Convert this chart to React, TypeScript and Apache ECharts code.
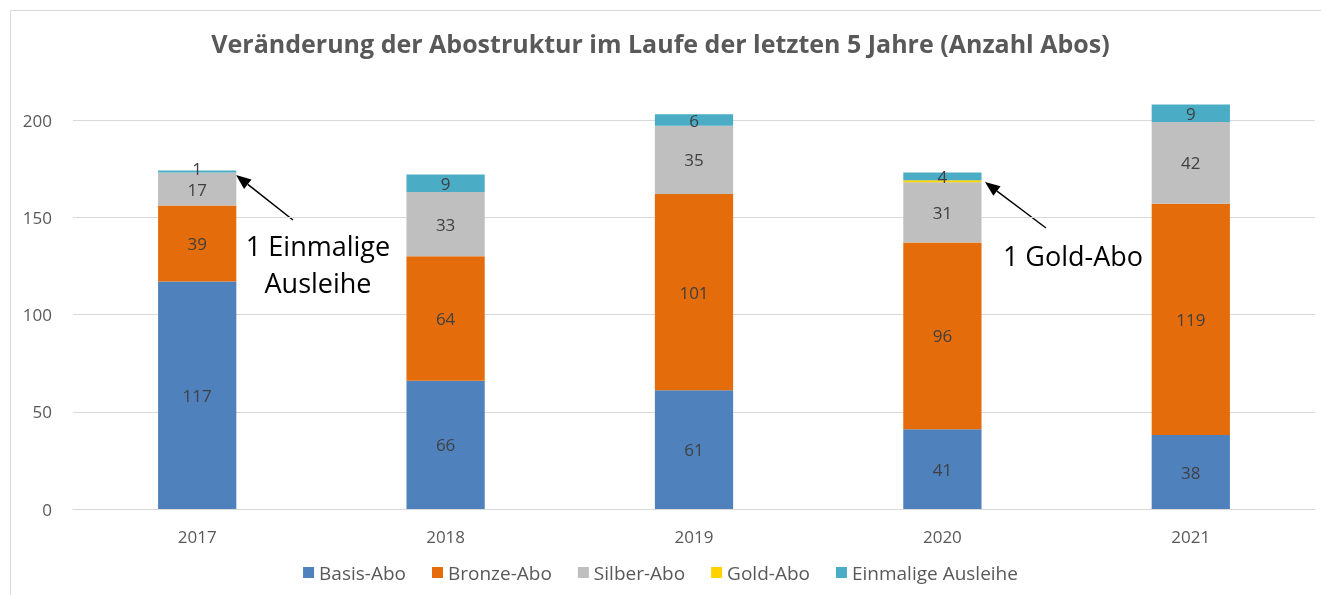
import React, { useEffect, useRef } from "react";
import * as echarts from "echarts";

const years = ["2017", "2018", "2019", "2020", "2021"];
const basis = [117, 66, 61, 41, 38];
const bronze = [39, 64, 101, 96, 119];
const silber = [17, 33, 35, 31, 42];
const gold = [0, 0, 0, 1, 0];
const einmalig = [1, 9, 6, 4, 9];
const seriesNames = ["Basis-Abo", "Bronze-Abo", "Silber-Abo", "Gold-Abo", "Einmalige Ausleihe"];
const colors = ["#4F81BD", "#E46C0A", "#BFBFBF", "#FFD200", "#4BACC6"];

const FONT = "'Open Sans', 'Noto Sans', sans-serif";

function arrow(x1: number, y1: number, x2: number, y2: number) {
  const dx = x2 - x1, dy = y2 - y1;
  const len = Math.sqrt(dx * dx + dy * dy);
  const ux = dx / len, uy = dy / len;
  const hl = 15, hw = 6;
  const bx = x2 - ux * hl, by = y2 - uy * hl;
  return [
    { type: "line", shape: { x1, y1, x2: bx, y2: by }, style: { stroke: "#000", lineWidth: 1.5 } },
    {
      type: "polygon",
      shape: { points: [[x2, y2], [bx - uy * hw, by + ux * hw], [bx + uy * hw, by - ux * hw]] },
      style: { fill: "#000" },
    },
  ];
}

export default function App() {
  const ref = useRef<HTMLDivElement>(null);
  useEffect(() => {
    const chart = echarts.init(ref.current!, undefined, { renderer: "svg" });
    const data = [basis, bronze, silber, gold, einmalig];
    chart.setOption({
      animation: false,
      textStyle: { fontFamily: FONT },
      title: {
        text: "Veränderung der Abostruktur im Laufe der letzten 5 Jahre (Anzahl Abos)",
        left: "center",
        top: 25,
        textStyle: { fontFamily: FONT, fontWeight: "bold", fontSize: 25, color: "#595959" },
      },
      legend: {
        bottom: 8,
        left: "center",
        itemWidth: 11,
        itemHeight: 11,
        itemGap: 26,
        icon: "rect",
        textStyle: { fontFamily: FONT, fontSize: 19, color: "#595959" },
        data: seriesNames,
      },
      grid: { left: 73, right: 6, top: 120, bottom: 86 },
      xAxis: {
        type: "category",
        data: years,
        axisLine: { lineStyle: { color: "#D9D9D9" } },
        axisTick: { show: false },
        axisLabel: { fontSize: 17, color: "#595959", margin: 19, fontFamily: FONT },
      },
      yAxis: {
        type: "value",
        min: 0,
        max: 200,
        interval: 50,
        axisLine: { show: false },
        axisTick: { show: false },
        splitLine: { lineStyle: { color: "#D9D9D9" } },
        axisLabel: { fontSize: 17, color: "#595959", margin: 21, fontFamily: FONT },
      },
      series: seriesNames.map((name, i) => ({
        name,
        type: "bar",
        stack: "total",
        barWidth: "31.5%",
        clip: false,
        data: data[i].map((v, j) =>
          i === 4 && j === 0 ? { value: v, label: { offset: [0, -3] } } : v
        ),
        itemStyle: { color: colors[i] },
        label: {
          show: i !== 3,
          position: "inside",
          fontSize: 17,
          lineHeight: 15,
          color: "#404040",
          fontFamily: FONT,
        },
      })),
      graphic: [
        { type: "line", shape: { x1: 10.5, y1: 10.5, x2: 1330, y2: 10.5 }, style: { stroke: "#D9D9D9", lineWidth: 1 } },
        { type: "line", shape: { x1: 10.5, y1: 10.5, x2: 10.5, y2: 600 }, style: { stroke: "#D9D9D9", lineWidth: 1 } },
        ...arrow(293, 220, 236, 175),
        ...arrow(1046, 228, 985, 182),
        {
          type: "text",
          x: 318,
          y: 245,
          style: { text: "1 Einmalige", fill: "#000", font: `27px ${FONT}`, align: "center", verticalAlign: "middle" },
        },
        {
          type: "text",
          x: 318,
          y: 282,
          style: { text: "Ausleihe", fill: "#000", font: `27px ${FONT}`, align: "center", verticalAlign: "middle" },
        },
        {
          type: "text",
          x: 1073,
          y: 255,
          style: { text: "1 Gold-Abo", fill: "#000", font: `27px ${FONT}`, align: "center", verticalAlign: "middle" },
        },
      ],
    });
    return () => chart.dispose();
  }, []);
  return <div ref={ref} style={{ position: "fixed", left: 0, top: 0, width: 1321, height: 595 }} />;
}
